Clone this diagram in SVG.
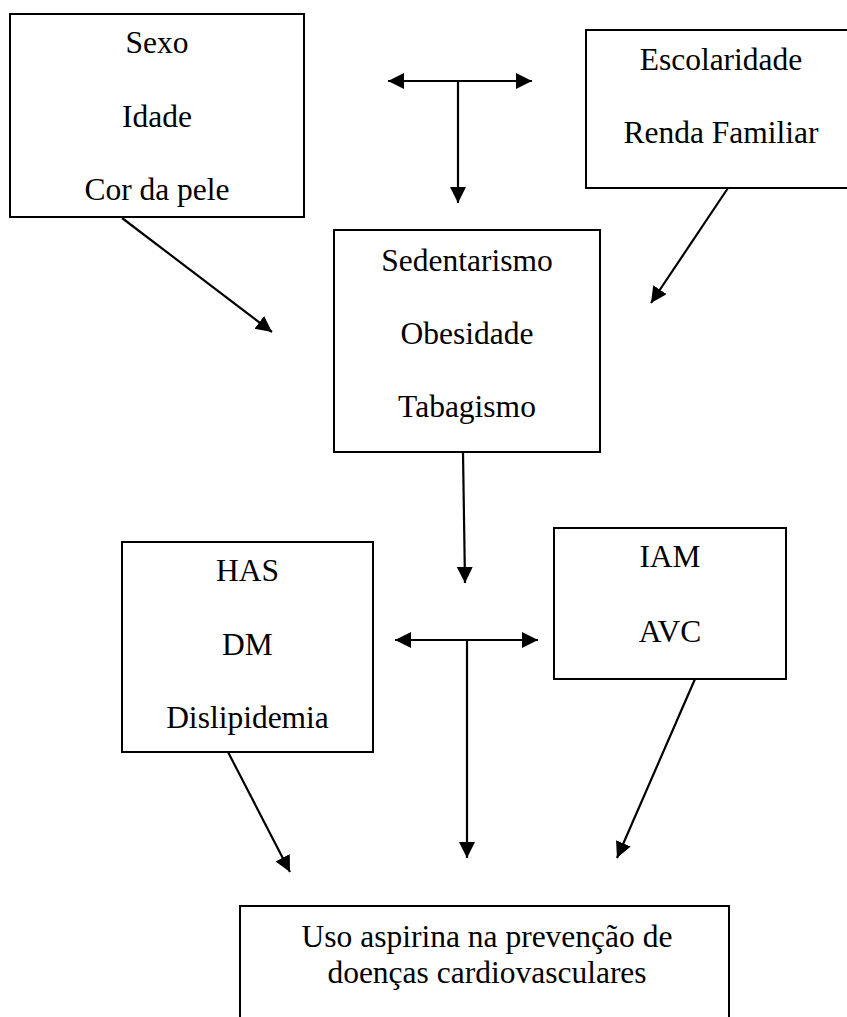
<svg xmlns="http://www.w3.org/2000/svg" width="847" height="1017" viewBox="0 0 847 1017">
<style>
.box{fill:#fff;stroke:#000;stroke-width:2}
.t{font-family:"Liberation Serif","Times New Roman",serif;font-size:31.5px;fill:#000;text-anchor:middle}
.c{stroke:#000;stroke-width:2.2;fill:none;marker-end:url(#ah)}
.c2{stroke:#000;stroke-width:2.2;fill:none;marker-end:url(#ah);marker-start:url(#ahs)}
</style>
<defs>
<marker id="ah" markerUnits="userSpaceOnUse" markerWidth="18" markerHeight="18" refX="16" refY="8" orient="auto"><path d="M0,0 L16,8 L0,16 z" fill="#000"/></marker>
<marker id="ahs" markerUnits="userSpaceOnUse" markerWidth="18" markerHeight="18" refX="0" refY="8" orient="auto"><path d="M16,0 L0,8 L16,16 z" fill="#000"/></marker>
</defs>
<rect width="847" height="1017" fill="#fff"/>
<g id="connectors">
<line class="c2" x1="388" y1="81" x2="532" y2="81"/>
<line class="c" x1="458" y1="81" x2="458" y2="203"/>
<line class="c" x1="122" y1="218" x2="272" y2="332"/>
<line class="c" x1="728" y1="188" x2="651" y2="303"/>
<line class="c" x1="463" y1="452" x2="465" y2="583"/>
<line class="c2" x1="395" y1="640" x2="538" y2="640"/>
<line class="c" x1="467" y1="640" x2="467" y2="858"/>
<line class="c" x1="228" y1="752" x2="290" y2="872"/>
<line class="c" x1="695" y1="679" x2="617" y2="858"/>
</g>
<g id="n-sexo">
<rect class="box" x="10" y="14" width="294" height="203"/>
<text class="t" x="157" y="53">Sexo</text>
<text class="t" x="157" y="127">Idade</text>
<text class="t" x="157" y="200">Cor da pele</text>
</g>
<g id="n-escolaridade">
<rect class="box" x="586" y="30" width="272" height="158"/>
<text class="t" x="721" y="70">Escolaridade</text>
<text class="t" x="721" y="143">Renda Familiar</text>
</g>
<g id="n-sedentarismo">
<rect class="box" x="334" y="230" width="266" height="222"/>
<text class="t" x="467" y="271">Sedentarismo</text>
<text class="t" x="467" y="344">Obesidade</text>
<text class="t" x="467" y="417">Tabagismo</text>
</g>
<g id="n-has">
<rect class="box" x="122" y="542" width="251" height="210"/>
<text class="t" x="247.5" y="581">HAS</text>
<text class="t" x="247.5" y="655">DM</text>
<text class="t" x="247.5" y="728">Dislipidemia</text>
</g>
<g id="n-iam">
<rect class="box" x="554" y="528" width="232" height="151"/>
<text class="t" x="670" y="567">IAM</text>
<text class="t" x="670" y="642">AVC</text>
</g>
<g id="n-uso">
<rect class="box" x="240" y="906" width="489" height="130"/>
<text class="t" x="487" y="947">Uso aspirina na prevenção de</text>
<text class="t" x="487" y="983">doenças cardiovasculares</text>
</g>
</svg>
